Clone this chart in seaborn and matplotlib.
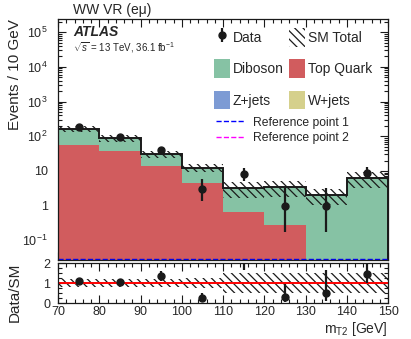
import numpy as np
import pandas as pd
import matplotlib
matplotlib.use("Agg")
import matplotlib.pyplot as plt
from matplotlib.patches import Patch
from matplotlib.lines import Line2D
from matplotlib.ticker import FixedLocator, MultipleLocator, FuncFormatter, LogLocator, NullFormatter
import seaborn as sns

# binning (mT2 in GeV)
edges = [70, 80, 90, 100, 110, 120, 130, 140, 150]
centers = [75, 85, 95, 105, 115, 125, 135, 145]

# background yields per bin
top_quark = [56, 38, 13.9, 4.6, 0.67, 0.28, 0, 0]
diboson = [109, 49, 16.1, 7.8, 2.53, 3.22, 2.0, 6.2]
z_jets = [0, 0, 0, 0, 0, 0, 0, 0]
w_jets = [0, 0, 0, 0, 0, 0, 0, 0]
sm_rel_unc = [0.22, 0.22, 0.22, 0.25, 0.48, 0.48, 0.48, 0.48]

# data and (asymmetric Poisson) errors
data = [182, 93, 40, 3, 8, 1, 1, 9]
data_err_lo = [13.5, 9.6, 6.3, 1.63, 2.76, 0.83, 0.83, 2.94]
data_err_hi = [14.5, 10.7, 7.4, 2.92, 3.94, 2.30, 2.30, 4.10]

# signal reference points (off scale, sit at the bottom)
ref1 = [0.0285] * 8
ref2 = [0.02] * 8

colors = {"Diboson": "#86c2a4", "Top Quark": "#d15c5e",
          "Z+jets": "#7d9bd4", "W+jets": "#d5d08c"}
HATCH = "\\" * 4

sns.set_theme(style="ticks")
plt.rcParams["font.family"] = ["Liberation Sans", "DejaVu Sans"]
plt.rcParams["hatch.linewidth"] = 0.9
plt.rcParams["mathtext.fontset"] = "custom"
plt.rcParams["mathtext.rm"] = "Liberation Sans"
plt.rcParams["mathtext.it"] = "Liberation Sans:italic"

rows = []
for name, vals in [("Z+jets", z_jets), ("W+jets", w_jets),
                   ("Diboson", diboson), ("Top Quark", top_quark)]:
    for c, v in zip(centers, vals):
        rows.append({"mt2": c, "w": v, "process": name})
df = pd.DataFrame(rows)

sm = np.array(top_quark) + np.array(diboson) + np.array(z_jets) + np.array(w_jets)
unc = sm * np.array(sm_rel_unc)

fig = plt.figure(figsize=(4.11, 3.39), dpi=100)
ax = fig.add_axes([58 / 411, 79 / 339, 330 / 411, 241 / 339])
rax = fig.add_axes([58 / 411, 36 / 339, 330 / 411, 40 / 339])

sns.histplot(data=df, x="mt2", weights="w", hue="process",
             hue_order=["Z+jets", "W+jets", "Diboson", "Top Quark"],
             palette=colors, multiple="stack", element="bars", bins=edges,
             shrink=1, linewidth=0, alpha=1, legend=False, ax=ax)
ax.set_yscale("log")

ax.bar(centers, 2 * unc, bottom=sm - unc, width=10, fill=False,
       hatch=HATCH, linewidth=0, edgecolor="k")
ax.stairs(sm, edges, color="k", linewidth=1.4)
ax.stairs(ref1, edges, color="blue", linestyle="--", linewidth=1)
ax.stairs(ref2, edges, color="magenta", linestyle="--", linewidth=1)
eb = ax.errorbar(centers, data, yerr=[data_err_lo, data_err_hi], fmt="o",
                 color="k", ms=5, elinewidth=1.6, capsize=0)

ax.set_xlim(70, 150)
ax.set_ylim(0.0272, 2.4e5)
ax.set_xlabel("")
ax.set_ylabel("Events / 10 GeV", loc="top", fontsize=11)
ax.yaxis.set_label_coords(-0.11, 1.0)


def log_fmt(v, pos):
    e = int(round(np.log10(v)))
    if e == 0:
        return "1"
    if e == 1:
        return "10"
    return r"$10^{%d}$" % e


ax.yaxis.set_major_locator(FixedLocator([0.1, 1, 10, 100, 1e3, 1e4, 1e5]))
ax.yaxis.set_major_formatter(FuncFormatter(log_fmt))
ax.yaxis.set_minor_locator(LogLocator(base=10, subs=np.arange(2, 10), numticks=20))
ax.yaxis.set_minor_formatter(NullFormatter())
ax.xaxis.set_major_locator(MultipleLocator(10))
ax.xaxis.set_minor_locator(MultipleLocator(2))
ax.tick_params(axis="x", labelbottom=False)

for a in (ax, rax):
    a.tick_params(which="both", direction="in", top=True, right=True, labelsize=9,
                  color="k", width=0.8)
    a.tick_params(which="major", length=6)
    a.tick_params(which="minor", length=3)
    for s in a.spines.values():
        s.set_color("k")
        s.set_linewidth(0.9)
ax.tick_params(axis="y", pad=7.5)
rax.tick_params(axis="y", pad=5.5)

# ratio panel
ratio = np.array(data) / sm
r_lo = np.array(data_err_lo) / sm
r_hi = np.array(data_err_hi) / sm
rax.bar(centers, 2 * np.array(sm_rel_unc), bottom=1 - np.array(sm_rel_unc), width=10,
        fill=False, hatch=HATCH, linewidth=0, edgecolor="k")
rax.axhline(1, color="red", linewidth=1.4)
rax.errorbar(centers, ratio, yerr=[r_lo, r_hi], fmt="o", color="k", ms=5,
             elinewidth=1.6, capsize=0)
rax.set_xlim(70, 150)
rax.set_ylim(0, 2)
rax.yaxis.set_major_locator(FixedLocator([0, 1, 2]))
rax.yaxis.set_minor_locator(MultipleLocator(0.25))
rax.xaxis.set_major_locator(MultipleLocator(10))
rax.xaxis.set_minor_locator(MultipleLocator(2))
rax.tick_params(axis="x", pad=2.5)
rax.set_ylabel("Data/SM", loc="top", fontsize=11)
rax.yaxis.set_label_coords(-0.11, 1.0)
rax.set_xlabel(r"m$_{\mathrm{T2}}$ [GeV]", loc="right", fontsize=10, labelpad=1)

# texts
fig.text(73 / 411, 1 - 10 / 339, "WW VR (eμ)", fontsize=10, va="center", ha="left")
ax.text(0.045, 0.945, "ATLAS", transform=ax.transAxes, fontsize=10,
        fontweight="bold", fontstyle="italic", va="center")
ax.text(0.045, 0.88, r"$\sqrt{s}$ = 13 TeV, 36.1 fb$^{-1}$", transform=ax.transAxes,
        fontsize=7, va="center")

# legends
h_data = eb
h_sm = Patch(facecolor="none", edgecolor="k", hatch=HATCH, linewidth=0)
h_dib = Patch(facecolor=colors["Diboson"], edgecolor="none")
h_top = Patch(facecolor=colors["Top Quark"], edgecolor="none")
h_z = Patch(facecolor=colors["Z+jets"], edgecolor="none")
h_w = Patch(facecolor=colors["W+jets"], edgecolor="none")
leg1 = ax.legend([h_data, h_dib, h_z, h_sm, h_top, h_w],
                 ["Data", "Diboson", "Z+jets", "SM Total", "Top Quark", "W+jets"],
                 ncol=2, loc="upper left", bbox_to_anchor=(0.473, 0.962),
                 frameon=False, fontsize=10, handlelength=1.15, handleheight=1.7,
                 handletextpad=0.2, columnspacing=0.4, labelspacing=0.9,
                 borderpad=0, borderaxespad=0)
ax.add_artist(leg1)
h_r1 = Line2D([], [], color="blue", linestyle="--", linewidth=1)
h_r2 = Line2D([], [], color="magenta", linestyle="--", linewidth=1)
ax.legend([h_r1, h_r2], ["Reference point 1", "Reference point 2"],
          loc="upper left", bbox_to_anchor=(0.48, 0.595), frameon=False,
          fontsize=8.7, handlelength=2.3, handletextpad=0.7, labelspacing=0.32,
          borderpad=0, borderaxespad=0)

fig.savefig("out.png", dpi=100)
